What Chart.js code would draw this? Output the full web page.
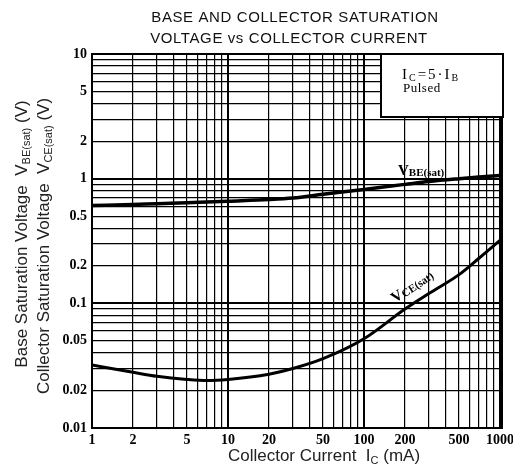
<!DOCTYPE html>
<html>
<head>
<meta charset="utf-8">
<script src="https://cdn.jsdelivr.net/npm/chart.js@4.4.0/dist/chart.umd.min.js"></script>
<style>
  html, body { margin: 0; padding: 0; background: #fff; }
  #wrap { width: 513px; height: 472px; }
</style>
</head>
<body>
<div id="wrap"><canvas id="satChart"></canvas></div>
<script>
// collector current (mA) and the two saturation curves (V)
const currentMA = [1, 2, 3, 5, 7, 10, 20, 30, 50, 100, 200, 300, 500, 700, 1000];
const vbeSat = [0.61, 0.62, 0.63, 0.64, 0.65, 0.66, 0.68, 0.70, 0.75, 0.82, 0.90, 0.95, 1.0, 1.03, 1.06];
const vceSat = [0.032, 0.028, 0.026, 0.0245, 0.024, 0.0245, 0.027, 0.030, 0.036, 0.052, 0.09, 0.12, 0.17, 0.23, 0.32];

const xTickValues = [1, 2, 5, 10, 20, 50, 100, 200, 500, 1000];
const yTickValues = [0.01, 0.02, 0.05, 0.1, 0.2, 0.5, 1, 2, 5, 10];

function logGrid(min, max) {
    const out = [];
    for (let e = Math.round(Math.log10(min)); e < Math.round(Math.log10(max)); e++) {
        for (let m = 1; m < 10; m++) out.push(+(m * Math.pow(10, e)).toPrecision(6));
    }
    out.push(max);
    return out;
}

function isDecade(v) {
    const l = Math.log10(v);
    return Math.abs(l - Math.round(l)) < 1e-6;
}

function labelFor(list) {
    return function (value) {
        const hit = list.find(v => Math.abs(v - value) / v < 1e-6);
        return hit !== undefined ? String(hit) : '';
    };
}

function drawRich(ctx, parts, x, y, align) {
    let w = 0;
    parts.forEach(p => { ctx.font = p.font; w += ctx.measureText(p.text).width; });
    let cx = align === 'center' ? x - w / 2 : x;
    parts.forEach(p => {
        ctx.font = p.font;
        ctx.fillText(p.text, cx, y + (p.dy || 0));
        cx += ctx.measureText(p.text).width;
    });
}

const SANS = '"Liberation Sans", Arial, sans-serif';
const SERIF = '"Liberation Serif", "Times New Roman", serif';

const textLayer = {
    id: 'textLayer',
    afterDraw(chart) {
        const ctx = chart.ctx;
        const a = chart.chartArea;
        ctx.save();
        ctx.textAlign = 'left';
        ctx.textBaseline = 'alphabetic';

        // frame
        ctx.strokeStyle = '#000';
        ctx.lineWidth = 2;
        ctx.strokeRect(a.left, a.top, a.right - a.left + 2, a.bottom - a.top);

        // title
        ctx.fillStyle = '#111';
        ctx.font = '15px ' + SANS;
        ctx.letterSpacing = '0.6px';
        ctx.textAlign = 'center';
        ctx.fillText('BASE AND COLLECTOR SATURATION', 295, 22);
        ctx.fillText('VOLTAGE vs COLLECTOR CURRENT', 289, 43);
        ctx.letterSpacing = '0px';
        ctx.textAlign = 'left';

        // axis titles
        ctx.fillStyle = '#222';
        const big = '17px ' + SANS, small = '11px ' + SANS;
        ctx.save();
        ctx.translate(27, 234);
        ctx.rotate(-Math.PI / 2);
        drawRich(ctx, [
            { text: 'Base Saturation Voltage  V', font: big },
            { text: 'BE(sat)', font: small, dy: 3 },
            { text: ' (V)', font: big }
        ], 0, 0, 'center');
        ctx.restore();
        ctx.save();
        ctx.translate(49, 246);
        ctx.rotate(-Math.PI / 2);
        drawRich(ctx, [
            { text: 'Collector Saturation Voltage  V', font: big },
            { text: 'CE(sat)', font: small, dy: 3 },
            { text: ' (V)', font: big }
        ], 0, 0, 'center');
        ctx.restore();
        drawRich(ctx, [
            { text: 'Collector Current  I', font: big },
            { text: 'C', font: small, dy: 3 },
            { text: ' (mA)', font: big }
        ], 324, 461, 'center');

        // condition box
        ctx.fillStyle = '#fff';
        ctx.fillRect(381, 54, 122, 63);
        ctx.strokeRect(381, 54, 122, 63);
        ctx.fillStyle = '#000';
        ctx.letterSpacing = '2px';
        drawRich(ctx, [
            { text: 'I', font: '15px ' + SERIF },
            { text: 'C', font: '10px ' + SERIF, dy: 2 },
            { text: '=5\u00b7I', font: '15px ' + SERIF },
            { text: 'B', font: '10px ' + SERIF, dy: 2 }
        ], 402, 79, 'left');
        ctx.letterSpacing = '0.5px';
        ctx.font = '13px ' + SERIF;
        ctx.fillText('Pulsed', 403, 92);
        ctx.letterSpacing = '0px';

        // curve labels
        drawRich(ctx, [
            { text: 'V', font: 'bold 15px ' + SERIF },
            { text: 'BE(sat)', font: 'bold 11px ' + SERIF, dy: 1 }
        ], 398, 175, 'left');
        ctx.save();
        ctx.translate(395, 303);
        ctx.rotate(-34 * Math.PI / 180);
        drawRich(ctx, [
            { text: 'V', font: 'bold 15px ' + SERIF },
            { text: 'CE(sat)', font: 'bold 11px ' + SERIF, dy: 1 }
        ], 0, 0, 'left');
        ctx.restore();

        ctx.restore();
    }
};

document.addEventListener('DOMContentLoaded', function () {
    const ctx = document.getElementById('satChart').getContext('2d');
    new Chart(ctx, {
        type: 'line',
        data: {
            datasets: [{
                label: 'VBE(sat)',
                data: currentMA.map((c, i) => ({ x: c, y: vbeSat[i] })),
                borderColor: '#000',
                borderWidth: 3.5,
                pointRadius: 0,
                cubicInterpolationMode: 'monotone'
            }, {
                label: 'VCE(sat)',
                data: currentMA.map((c, i) => ({ x: c, y: vceSat[i] })),
                borderColor: '#000',
                borderWidth: 3,
                pointRadius: 0,
                cubicInterpolationMode: 'monotone'
            }]
        },
        options: {
            responsive: true,
            maintainAspectRatio: false,
            animation: false,
            layout: { padding: { left: 0, top: 54, right: 13, bottom: 0 } },
            plugins: {
                legend: { display: false },
                tooltip: { enabled: false }
            },
            scales: {
                x: {
                    type: 'logarithmic',
                    min: 1,
                    max: 1000,
                    afterBuildTicks: s => { s.ticks = logGrid(1, 1000).map(v => ({ value: v })); },
                    afterFit: s => { s.height = 44; s.paddingLeft = 0; s.paddingRight = 0; },
                    border: { display: true, color: '#000', width: 2 },
                    grid: {
                        color: '#000',
                        lineWidth: c => (c.tick && isDecade(c.tick.value) ? 2 : 1.2),
                        drawTicks: false
                    },
                    ticks: {
                        autoSkip: false,
                        maxRotation: 0,
                        padding: 4,
                        color: '#000',
                        font: { family: SERIF, size: 14, weight: 'bold' },
                        callback: labelFor(xTickValues)
                    }
                },
                y: {
                    type: 'logarithmic',
                    min: 0.01,
                    max: 10,
                    afterBuildTicks: s => { s.ticks = logGrid(0.01, 10).map(v => ({ value: v })); },
                    afterFit: s => { s.width = 92; s.paddingTop = 0; s.paddingBottom = 0; },
                    border: { display: true, color: '#000', width: 2 },
                    grid: {
                        color: '#000',
                        lineWidth: c => (c.tick && isDecade(c.tick.value) ? 2 : 1.2),
                        drawTicks: false
                    },
                    ticks: {
                        autoSkip: false,
                        padding: 5,
                        color: '#000',
                        font: { family: SERIF, size: 14, weight: 'bold' },
                        callback: labelFor(yTickValues)
                    }
                }
            }
        },
        plugins: [textLayer]
    });
});
</script>
</body>
</html>
